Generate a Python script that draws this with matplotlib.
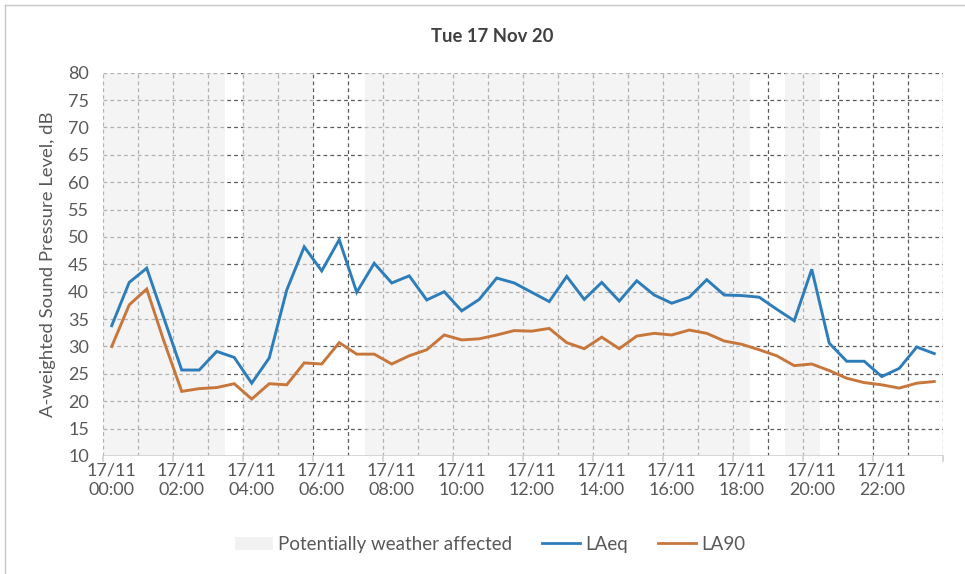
import matplotlib
matplotlib.use("Agg")
import matplotlib.pyplot as plt
from matplotlib.patches import Patch
from matplotlib.lines import Line2D

plt.rcParams['font.family'] = ['Lato', 'DejaVu Sans']

# Half-hourly periods on 17/11
times = [f"17/11 {h:02d}:{m:02d}" for h in range(24) for m in (0, 30)]

laeq = [33.8, 41.7, 44.3, 35.0, 25.7, 25.7, 29.1, 28.0, 23.3, 27.9,
        40.3, 48.2, 43.8, 49.5, 39.9, 45.2, 41.6, 42.9, 38.5, 40.0,
        36.5, 38.6, 42.5, 41.6, 39.9, 38.2, 42.8, 38.6, 41.7, 38.3,
        42.0, 39.4, 37.9, 39.0, 42.2, 39.4, 39.3, 39.0, 36.8, 34.7,
        44.1, 30.6, 27.3, 27.3, 24.5, 26.0, 29.9, 28.7]

la90 = [30.0, 37.6, 40.5, 30.8, 21.8, 22.3, 22.5, 23.2, 20.4, 23.2,
        23.0, 27.0, 26.8, 30.7, 28.6, 28.6, 26.8, 28.3, 29.4, 32.1,
        31.2, 31.4, 32.1, 32.9, 32.8, 33.3, 30.7, 29.6, 31.7, 29.6,
        31.9, 32.4, 32.1, 33.0, 32.4, 31.0, 30.4, 29.4, 28.3, 26.5,
        26.8, 25.6, 24.2, 23.4, 23.0, 22.4, 23.3, 23.6]

# 1 = period flagged as potentially weather affected
weather = [1, 1, 1, 1, 1, 1, 1, 0, 1, 1, 1, 1, 0, 0, 0, 1,
           1, 1, 1, 1, 1, 1, 1, 1, 1, 1, 1, 1, 1, 1, 1, 1,
           1, 1, 1, 1, 1, 0, 0, 1, 1, 0, 0, 0, 0, 0, 0, 0]

y_min, y_max = 10, 80
text_col = "#595959"
blue = "#2e7dbb"
orange = "#c8773c"
shade = "#ededed"

fig = plt.figure(figsize=(9.65, 5.74), dpi=100)
ax = fig.add_axes([0.1067, 0.2056, 0.8705, 0.6677])

n = len(times)
xs = [i + 0.5 for i in range(n)]

# weather shading as full-height columns
for x, w in zip(xs, weather):
    if w:
        ax.bar(x, y_max - y_min, bottom=y_min, width=1.0, color=shade,
               alpha=0.6, linewidth=0, zorder=2)

ax.plot(xs, laeq, color=blue, lw=2.1, zorder=4, solid_joinstyle='miter')
ax.plot(xs, la90, color=orange, lw=2.1, zorder=4, solid_joinstyle='miter')

ax.set_xlim(0, n)
ax.set_ylim(y_min, y_max)

# grid
grid_kw = dict(color="#5a5a5a", lw=0.9, ls=(0, (3, 2.5)), zorder=1)
for yv in range(15, y_max + 1, 5):
    ax.axhline(yv, **grid_kw)
for xv in range(0, n + 1, 2):
    ax.axvline(xv, **grid_kw)

for s in ax.spines.values():
    s.set_visible(False)
ax.axhline(y_min, color="#d0d0d0", lw=1.2, zorder=3)

ax.set_yticks(range(y_min, y_max + 1, 5))
ax.tick_params(axis='y', length=0, pad=10, labelsize=13, labelcolor=text_col)

label_idx = list(range(0, n, 4))
ax.set_xticks([xs[i] for i in label_idx])
ax.set_xticklabels([times[i].replace(" ", "\n") for i in label_idx])
ax.tick_params(axis='x', length=0, pad=4.5, labelsize=13, labelcolor=text_col)
for i in range(0, n + 1, 4):
    ax.plot([i, i], [0, -0.012], transform=ax.get_xaxis_transform(),
            color="#d0d0d0", lw=1.2, clip_on=False, zorder=3)
for lab in ax.get_xticklabels():
    lab.set_linespacing(1.3)

ax.set_ylabel("A-weighted Sound Pressure Level, dB", fontsize=13.3,
              color=text_col, labelpad=9)

fig.text(0.51, 0.937, "Tue 17 Nov 20", ha='center', va='center',
         fontsize=13.3, fontweight='bold', color="#404040")

handles = [Patch(facecolor="#f2f2f2", edgecolor='none'),
           Line2D([], [], color=blue, lw=2.0),
           Line2D([], [], color=orange, lw=2.0)]
leg = fig.legend(handles, ["Potentially weather affected", "LAeq", "LA90"],
                 loc='center', bbox_to_anchor=(0.508, 0.052), ncol=3,
                 frameon=False, fontsize=13.5, handlelength=2.0,
                 columnspacing=1.6, handletextpad=0.3)
for t in leg.get_texts():
    t.set_color(text_col)

# chart border
fig.add_artist(Line2D([5 / 965, 5 / 965], [0, 1 - 5 / 574],
                      transform=fig.transFigure, color="#c8c8c8", lw=1))
fig.add_artist(Line2D([5 / 965, 1], [1 - 5 / 574, 1 - 5 / 574],
                      transform=fig.transFigure, color="#c8c8c8", lw=1))

fig.savefig("out.png", dpi=100, facecolor="white")
